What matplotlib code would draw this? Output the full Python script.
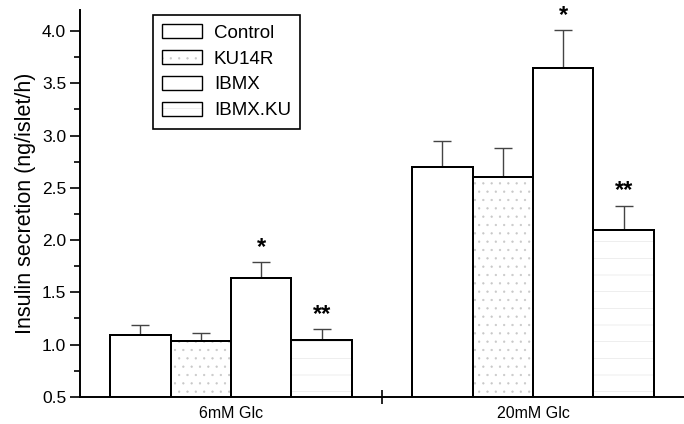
import numpy as np
import matplotlib
matplotlib.use('Agg')
import matplotlib.pyplot as plt

plt.rcParams['font.family'] = ['Liberation Sans', 'DejaVu Sans']
plt.rcParams['hatch.linewidth'] = 0.4

# insulin secretion per group (ng/islet/h), mean and SEM
groups = ['6mM Glc', '20mM Glc']
treatments = ['Control', 'KU14R', 'IBMX', 'IBMX.KU']
means = {
    'Control': [1.09, 2.70],
    'KU14R':   [1.03, 2.60],
    'IBMX':    [1.64, 3.65],
    'IBMX.KU': [1.045, 2.10],
}
errors = {
    'Control': [0.10, 0.25],
    'KU14R':   [0.08, 0.28],
    'IBMX':    [0.15, 0.36],
    'IBMX.KU': [0.10, 0.23],
}
stars = {'IBMX': '*', 'IBMX.KU': '**'}

hatches = {'Control': '', 'KU14R': '..', 'IBMX': '', 'IBMX.KU': '-'}
hatch_cols = {'Control': 'white', 'KU14R': '#c8c8c8', 'IBMX': 'white', 'IBMX.KU': '#e2e2e2'}

fig = plt.figure(figsize=(6.84, 4.24), dpi=100)
ax = fig.add_axes([0.117, 0.064, 0.883, 0.912])

width = 0.2
centers = np.array([0.5, 1.5])
handles = []
for i, t in enumerate(treatments):
    x = centers + (i - 1.5) * width
    b = ax.bar(x, np.array(means[t]) - 0.5, width, bottom=0.5, color='white',
               edgecolor='black', linewidth=1.4, hatch=hatches[t], zorder=2)
    for p in b:
        p._hatch_color = matplotlib.colors.to_rgba(hatch_cols[t])
    # redraw outline on top of the hatch
    ax.bar(x, np.array(means[t]) - 0.5, width, bottom=0.5, color='none',
           edgecolor='black', linewidth=1.4, zorder=3)
    ax.errorbar(x, means[t], yerr=[np.zeros(2), errors[t]], fmt='none',
                ecolor='#444444', elinewidth=1.0, capsize=6.2, capthick=1.0, zorder=1)
    handles.append(b)
    if t in stars:
        for xi, m, e in zip(x, means[t], errors[t]):
            ax.text(xi, m + e + 0.14, stars[t], ha='center', va='center',
                    fontsize=17, fontweight='bold')

ax.set_xlim(0, 2)
ax.set_ylim(0.5, 4.2)
ax.set_yticks(np.arange(0.5, 4.01, 0.5))
ax.set_yticks(np.arange(0.75, 4.0, 0.5), minor=True)
ax.set_yticklabels(['%.1f' % v for v in np.arange(0.5, 4.01, 0.5)], fontsize=12.5)
ax.set_xticks([1.0])
ax.set_xticklabels([''])
ax.tick_params(axis='x', direction='inout', length=10, width=1.2)
ax.tick_params(axis='y', which='major', direction='out', length=7, width=1.2, pad=3)
ax.tick_params(axis='y', which='minor', direction='out', length=4, width=1.2)
for xc, g in zip(centers, groups):
    ax.text(xc, 0.5 - 0.09, g, ha='center', va='top', fontsize=11.5,
            transform=ax.transData)

ax.spines['top'].set_visible(False)
ax.spines['right'].set_visible(False)
ax.spines['left'].set_linewidth(1.4)
ax.spines['bottom'].set_linewidth(1.4)
ax.set_ylabel('Insulin secretion (ng/islet/h)', fontsize=15.5, labelpad=4)

leg = ax.legend(handles, treatments, loc='upper left',
                bbox_to_anchor=(153 / 684, 1 - 15 / 424), bbox_transform=fig.transFigure,
                borderaxespad=0, fancybox=False, edgecolor='black', framealpha=1,
                fontsize=13.5, handlelength=2.1, handleheight=0.75, labelspacing=0.45,
                borderpad=0.5, handletextpad=0.65)
leg.get_frame().set_linewidth(1.2)
for h in leg.legend_handles:
    h.set_linewidth(1.0)

fig.savefig('out.png', dpi=100)
